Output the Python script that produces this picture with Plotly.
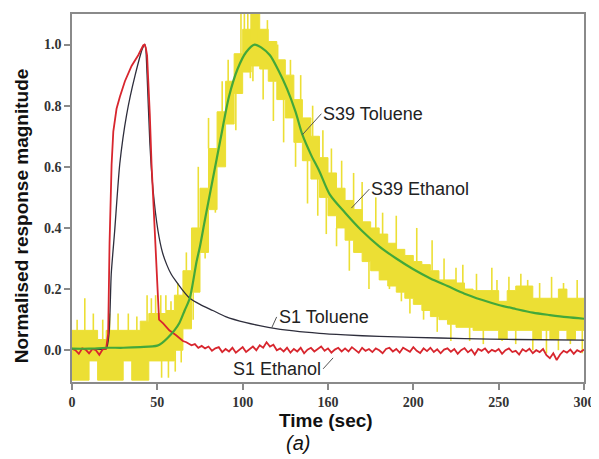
import plotly.graph_objects as go

# ---------------- data ----------------
# S1 Toluene (dark line)
s1_tol_x = [0, 10, 20, 21.7, 23, 25, 28, 32, 37, 41.5, 42.8, 44, 45.6, 47.4, 50.4, 53, 55.5, 58, 61, 65,
            69, 75, 82.5, 90, 102, 115, 130, 145, 160, 180, 200, 230, 260, 300]
s1_tol_y = [0.005, 0.005, 0.005, 0.055, 0.25, 0.39, 0.61, 0.77, 0.9, 0.99, 1.0, 0.9, 0.68, 0.53, 0.39, 0.32,
            0.28, 0.25, 0.225, 0.195, 0.17, 0.15, 0.13, 0.11, 0.09, 0.075, 0.063, 0.055, 0.05, 0.045, 0.042,
            0.038, 0.035, 0.033]

# S1 Ethanol (red line)
s1_eth_head_x = [0, 2, 4, 6, 8, 10, 12, 14, 16, 18, 20, 21.2, 22, 23.2, 24.2, 26.1, 28.1, 31, 34.9, 38.8,
                 41.7, 42.5, 43.2, 44, 45.6, 46.6, 48.5, 49.9, 51, 53.4, 57, 61, 65, 67, 69]
s1_eth_head_y = [0.005, 0.0, -0.012, 0.006, 0.002, -0.01, 0.004, 0.0, -0.015, 0.003, 0.005, 0.054, 0.35,
                 0.607, 0.715, 0.79, 0.83, 0.88, 0.93, 0.965, 0.997, 1.0, 0.99, 0.965, 0.77, 0.61, 0.39,
                 0.195, 0.1, 0.088, 0.065, 0.049, 0.03, 0.026, 0.02]
s1_eth_tail_x = list(range(70, 301, 2))
s1_eth_tail_y = [0.016, 0.02, 0.008, 0.014, 0.006, 0.012, -0.002, 0.006, 0.01, -0.006, 0.004, -0.004, 0.008, -0.008, 0.0,
                 0.01, -0.006, 0.004, 0.012, 0.0, 0.016, 0.008, 0.026, 0.012, 0.018, 0.0, 0.006, -0.004, 0.008, -0.008,
                 0.004, -0.004, 0.008, -0.01, 0.002, 0.008, -0.004, 0.004, 0.012, -0.002, 0.006, -0.008, 0.002, 0.008, -0.004,
                 0.006, -0.004, 0.01, 0.0, -0.008, 0.008, -0.002, 0.004, -0.006, 0.006, 0.0, -0.01, 0.004, 0.008, -0.004,
                 0.004, -0.008, 0.008, 0.0, -0.005, 0.01, -0.002, -0.009, 0.006, -0.003, 0.008, -0.006, 0.003, -0.01, 0.002,
                 0.006, -0.005, 0.004, -0.012, 0.0, 0.007, -0.007, 0.002, -0.014, 0.004, -0.002, 0.006, -0.008, 0.001, -0.004,
                 0.004, -0.012, 0.0, 0.006, -0.006, -0.002, -0.014, 0.003, -0.004, 0.005, -0.01, 0.0, -0.006, 0.004, -0.016,
                 -0.026, -0.01, -0.032, -0.014, -0.002, -0.008, 0.002, -0.012, 0.0, -0.006, 0.002]

# S39 Toluene (green line)
s39_tol_x = [0, 10, 20, 30, 40, 50, 53, 56, 60, 63, 66, 69, 73, 75, 78, 82.5, 87, 92, 97, 102, 107, 111, 116,
             121, 126, 131, 135, 140, 145, 151, 160, 170, 180, 190, 200, 210, 220, 230, 240, 250, 260, 270,
             280, 290, 300]
s39_tol_y = [0.005, 0.005, 0.008, 0.008, 0.01, 0.015, 0.025, 0.04, 0.065, 0.09, 0.13, 0.17, 0.29, 0.34, 0.43,
             0.56, 0.69, 0.83, 0.92, 0.975, 1.0, 0.99, 0.965, 0.915, 0.855, 0.78, 0.705, 0.64, 0.585, 0.51,
             0.45, 0.39, 0.34, 0.3, 0.265, 0.235, 0.21, 0.185, 0.165, 0.148, 0.135, 0.123, 0.115, 0.108, 0.103]

# S39 Ethanol (yellow, quantised noisy signal): band per 5-s segment + spikes
s39_eth_seg_x = list(range(0, 300, 5))
s39_eth_lo = [-0.098, -0.098, -0.035, -0.098, -0.098, -0.098, -0.035, -0.098, -0.098, -0.035,
              -0.035, -0.035, 0.0, 0.07, 0.19, 0.32, 0.46, 0.6, 0.74, 0.84,
              0.91, 0.93, 0.92, 0.88, 0.82, 0.76, 0.68, 0.62, 0.56, 0.5,
              0.44, 0.4, 0.36, 0.32, 0.29, 0.26, 0.23, 0.21, 0.19, 0.17,
              0.15, 0.13, 0.11, 0.1, 0.085, 0.075, 0.075, 0.065, 0.065, 0.065,
              0.035, 0.065, 0.065, 0.065, 0.035, 0.065, 0.035, 0.065, 0.035, 0.065]
s39_eth_hi = [0.065, 0.065, 0.065, 0.035, 0.065, 0.065, 0.065, 0.065, 0.095, 0.12,
              0.12, 0.13, 0.18, 0.26, 0.4, 0.53, 0.66, 0.78, 0.88, 0.97,
              1.05, 1.1, 1.05, 1.01, 0.95, 0.9, 0.82, 0.76, 0.7, 0.63,
              0.58, 0.53, 0.49, 0.46, 0.42, 0.4, 0.38, 0.35, 0.33, 0.31,
              0.29, 0.28, 0.26, 0.23, 0.23, 0.22, 0.2, 0.195, 0.195, 0.195,
              0.16, 0.195, 0.21, 0.21, 0.17, 0.17, 0.17, 0.2, 0.17, 0.17]
s39_eth_spike_x = [3, 7.5, 12.5, 18, 22, 27, 33, 38, 44, 46.5, 49, 52, 55, 58, 62, 52.5, 56.5, 60.5, 64,
                   67, 71, 74, 78, 80, 84, 88, 91.5, 96, 99, 101, 103, 105, 104.5, 106, 109, 112, 114.5,
                   118, 120.5, 124, 128, 131, 134, 138, 141, 144, 147, 149, 152, 155, 158, 162.5, 165,
                   170, 174, 178, 182, 186, 190, 193, 198, 202, 206, 211, 214, 218, 222, 225, 229, 233,
                   237, 241, 246, 249, 252, 256, 260, 263, 267, 270, 274, 278, 281, 285, 288, 292, 296, 299]
s39_eth_spike_y = [0.1, 0.17, 0.12, 0.1, 0.12, 0.12, 0.12, 0.11, 0.18, 0.17, 0.18, 0.18, 0.18, 0.16, 0.22,
                   -0.09, -0.09, -0.07, -0.04, 0.32, 0.1, 0.6, 0.3, 0.76, 0.45, 0.88, 0.95, 0.72, 1.1, 1.1,
                   1.1, 1.1, 0.89, 0.88, 1.1, 0.82, 1.08, 0.75, 1.0, 0.68, 0.95, 0.6, 0.9, 0.48, 0.8, 0.44,
                   0.72, 0.38, 0.66, 0.34, 0.62, 0.26, 0.58, 0.55, 0.2, 0.5, 0.45, 0.2, 0.44, 0.16, 0.12,
                   0.4, 0.1, 0.36, 0.06, 0.3, 0.03, 0.27, 0.28, 0.03, 0.25, 0.02, 0.27, 0.23, 0.03, 0.24,
                   0.02, 0.25, 0.23, 0.0, 0.22, -0.01, 0.24, 0.0, 0.22, 0.02, 0.23, -0.01]

x_tick_vals = [0, 50, 100, 150, 200, 250, 300]
x_tick_text = ["0", "50", "100", "160", "200", "250", "300"]
y_tick_vals = [0.0, 0.2, 0.4, 0.6, 0.8, 1.0]
y_tick_text = ["0.0", "0.2", "0.4", "0.6", "0.8", "1.0"]

# ---------------- build traces ----------------
YELLOW = "#ECDF34"
SEG_W = 5

band_x, band_y = [], []
for x0, hi in zip(s39_eth_seg_x, s39_eth_hi):
    band_x += [x0, x0 + SEG_W]
    band_y += [hi, hi]
for x0, lo in reversed(list(zip(s39_eth_seg_x, s39_eth_lo))):
    band_x += [x0 + SEG_W, x0]
    band_y += [lo, lo]

sp_x, sp_y = [], []
for sx, sy in zip(s39_eth_spike_x, s39_eth_spike_y):
    i = min(int(sx // SEG_W), len(s39_eth_seg_x) - 1)
    lo, hi = s39_eth_lo[i], s39_eth_hi[i]
    base = hi if sy > hi else (lo if sy < lo else (lo + hi) / 2)
    sp_x += [sx, sx, None]
    sp_y += [base, sy, None]

fig = go.Figure()
fig.add_trace(go.Scatter(x=band_x, y=band_y, fill="toself", fillcolor=YELLOW, mode="lines",
                         line=dict(color=YELLOW, width=1), hoverinfo="skip", showlegend=False))
fig.add_trace(go.Scatter(x=sp_x, y=sp_y, mode="lines", line=dict(color=YELLOW, width=1.6),
                         hoverinfo="skip", showlegend=False))
fig.add_trace(go.Scatter(x=s1_tol_x, y=s1_tol_y, mode="lines", line=dict(color="#2e2e3c", width=1.3, shape="spline", smoothing=0.6),
                         name="S1 Toluene", showlegend=False))
fig.add_trace(go.Scatter(x=s1_eth_head_x + s1_eth_tail_x, y=s1_eth_head_y + s1_eth_tail_y, mode="lines",
                         line=dict(color="#d8262e", width=1.8), name="S1 Ethanol", showlegend=False))
fig.add_trace(go.Scatter(x=s39_tol_x, y=s39_tol_y, mode="lines",
                         line=dict(color="#43a83a", width=2.2, shape="spline", smoothing=0.8),
                         name="S39 Toluene", showlegend=False))

AX_COL = "#8a8a8a"
tickfont = dict(family="Liberation Serif", size=14, color="#333333", weight="bold")
fig.update_xaxes(range=[0, 300], tickvals=x_tick_vals, ticktext=x_tick_text, showgrid=False, zeroline=False,
                 showline=True, mirror=True, linecolor=AX_COL, linewidth=1.5, ticks="outside", ticklen=6,
                 tickcolor=AX_COL, tickwidth=1.5, tickfont=tickfont)
fig.update_yaxes(range=[-0.104, 1.1], tickvals=y_tick_vals, ticktext=y_tick_text, showgrid=False, zeroline=False,
                 showline=True, mirror=True, linecolor=AX_COL, linewidth=1.5, ticks="outside", ticklen=6,
                 tickcolor=AX_COL, tickwidth=1.5, tickfont=tickfont)

lab_font = dict(family="Liberation Sans", size=18, color="#222222")
arrow = dict(showarrow=True, arrowhead=0, arrowwidth=1, arrowcolor="#555555", axref="pixel", ayref="pixel",
             font=lab_font, yanchor="middle")
fig.add_annotation(x=135, y=0.705, ax=19, ay=-21, text="S39 Toluene", xanchor="left", **arrow)
fig.add_annotation(x=163.7, y=0.465, ax=18, ay=-19, text="S39 Ethanol", xanchor="left", **arrow)
fig.add_annotation(x=117, y=0.073, ax=5, ay=-11, text="S1 Toluene", xanchor="left", **arrow)
fig.add_annotation(x=153, y=-0.025, ax=-10, ay=11, text="S1 Ethanol", xanchor="right", **arrow)

title_font = dict(family="Liberation Sans", size=19, color="#111111", weight="bold")
fig.add_annotation(xref="paper", yref="paper", x=0.496, y=-0.105, text="Time (sec)", showarrow=False,
                   font=title_font, xanchor="center", yanchor="middle")
fig.add_annotation(xref="paper", yref="paper", x=-0.0992, y=0.451, text="Normalised response magnitude",
                   textangle=-90, showarrow=False, font=title_font, xanchor="center", yanchor="middle")
fig.add_annotation(xref="paper", yref="paper", x=0.442, y=-0.165, text="(a)", showarrow=False,
                   font=dict(family="Liberation Sans", size=20, color="#111111", style="italic"),
                   xanchor="center", yanchor="middle")

# the page body adds an 8px offset, so the figure is 8px smaller and margins compensate
fig.update_layout(width=591, height=451, margin=dict(l=64, r=13, t=4, b=77),
                  plot_bgcolor="white", paper_bgcolor="white", showlegend=False)

fig.write_html("out.html")
